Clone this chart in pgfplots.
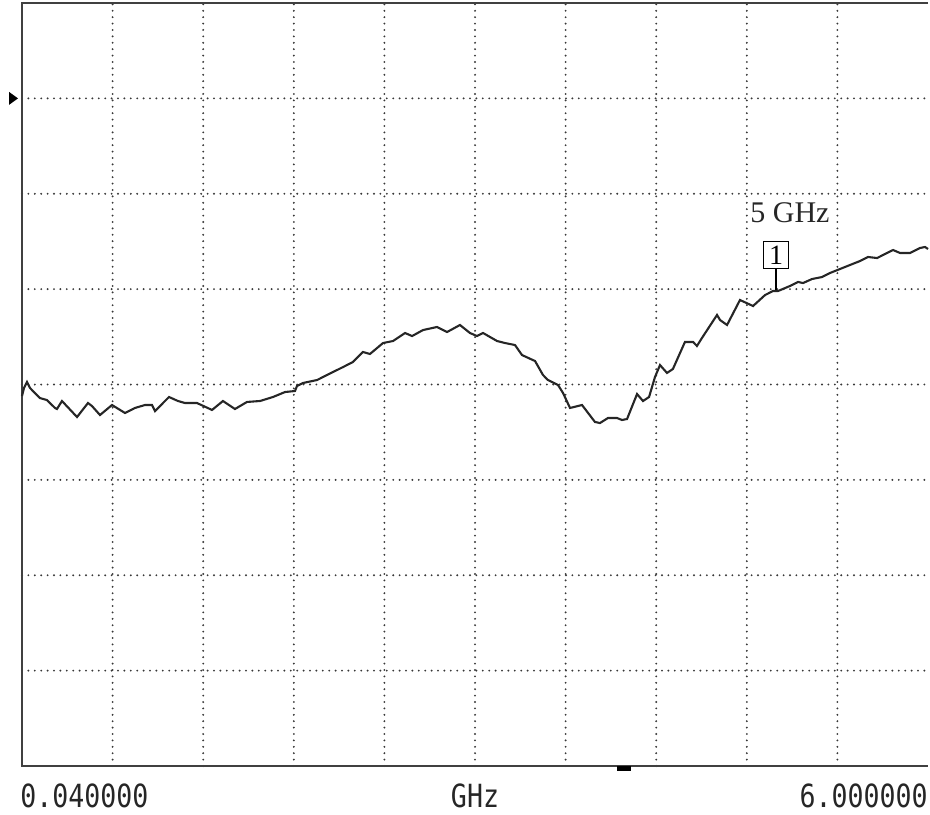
\documentclass[border=0pt]{standalone}
\usepackage{pgfplots}
\pgfplotsset{compat=1.18}
\usepackage{fontspec}
\newfontfamily\markerfont{Liberation Serif}
\newfontfamily\scalefont{DejaVu Sans Mono}

\definecolor{trace}{gray}{0.15}
\definecolor{frame}{gray}{0.25}
\definecolor{gridc}{gray}{0.22}

% Measured trace: frequency (GHz) vs. level (screen divisions)
\pgfplotstableread{
f      v
0.040  3.879
0.053  3.963
0.073  4.026
0.093  3.963
0.112  3.932
0.158  3.858
0.204  3.837
0.257  3.754
0.270  3.743
0.303  3.827
0.402  3.659
0.474  3.806
0.500  3.775
0.553  3.680
0.632  3.785
0.718  3.701
0.783  3.754
0.849  3.785
0.895  3.785
0.915  3.722
1.007  3.869
1.066  3.827
1.112  3.806
1.191  3.806
1.290  3.733
1.362  3.827
1.441  3.743
1.520  3.817
1.606  3.827
1.691  3.869
1.770  3.921
1.836  3.932
1.849  3.984
1.889  4.016
1.981  4.047
2.086  4.131
2.152  4.183
2.217  4.236
2.283  4.341
2.329  4.320
2.415  4.435
2.481  4.456
2.560  4.540
2.606  4.508
2.678  4.571
2.770  4.603
2.836  4.550
2.921  4.624
2.987  4.540
3.033  4.508
3.073  4.540
3.165  4.456
3.217  4.435
3.283  4.414
3.329  4.309
3.415  4.246
3.467  4.100
3.500  4.047
3.566  3.995
3.599  3.911
3.645  3.754
3.724  3.785
3.809  3.607
3.842  3.596
3.895  3.649
3.954  3.649
3.987  3.628
4.020  3.638
4.086  3.900
4.125  3.827
4.165  3.869
4.204  4.079
4.237  4.204
4.283  4.121
4.322  4.163
4.401  4.446
4.454  4.446
4.480  4.404
4.513  4.488
4.612  4.729
4.632  4.676
4.678  4.624
4.763  4.886
4.849  4.823
4.928  4.938
4.980  4.980
5.013  4.980
5.092  5.033
5.145  5.075
5.178  5.064
5.237  5.106
5.303  5.127
5.355  5.169
5.421  5.211
5.487  5.253
5.553  5.295
5.605  5.337
5.665  5.326
5.730  5.379
5.770  5.410
5.816  5.379
5.882  5.379
5.947  5.431
5.980  5.442
6.000  5.421
}\tracedata

\begin{document}
\begin{tikzpicture}
\useasboundingbox (-11pt,-24pt) rectangle (454pt,383pt);
\begin{axis}[
  scale only axis,
  width=453pt, height=381.5pt,
  xmin=0.04, xmax=6, ymin=0, ymax=8,
  xtick={0.636,1.232,1.828,2.424,3.020,3.616,4.212,4.808,5.404},
  ytick={1,2,3,4,5,6,7},
  xticklabels={}, yticklabels={},
  major tick length=0pt,
  grid=major,
  grid style={gridc, line width=1.05pt, line cap=round, dash pattern=on 0pt off 3.2pt},
  axis line style={draw=none},
  clip=false,
]
% frame: left, bottom and top edges
\draw[frame, line width=1pt] (rel axis cs:1,1) -- (rel axis cs:0,1) -- (rel axis cs:0,0) -- (rel axis cs:1,0);

\addplot[trace, line width=1.05pt, mark=none] table[x=f, y=v] {\tracedata};

% reference level arrow
\fill[black] ([xshift=-2pt]axis cs:0.04,7) -- ++(-4.5pt,3.25pt) -- ++(0pt,-6.5pt) -- cycle;
% center-frequency tick under the frame
\fill[black] ([xshift=-3.5pt]axis cs:4.0,0) rectangle ([xshift=3.5pt,yshift=-2.5pt]axis cs:4.0,0);

% marker 1 at 5 GHz
\draw[black, line width=0.6pt] (axis cs:5.0,4.99) -- ++(0pt,10.5pt)
  node[draw, line width=0.6pt, anchor=south, minimum width=12.5pt, minimum height=13.5pt,
       inner sep=0pt, font=\markerfont\fontsize{14}{14}\selectfont] {1};
\node[font=\markerfont\fontsize{15}{15}\selectfont, text=black!85] at (axis cs:5.092,5.80) {5 GHz};

% frequency scale
\node[anchor=west, inner sep=0pt, font=\scalefont\fontsize{13.3}{13.3}\selectfont, text=black!85]
  at ([xshift=-1pt,yshift=-15pt]rel axis cs:0,0) {\scalebox{1}[1.2]{0.040000}};
\node[anchor=center, inner sep=0pt, font=\scalefont\fontsize{13.3}{13.3}\selectfont, text=black!85]
  at ([yshift=-15pt]rel axis cs:0.5,0) {\scalebox{1}[1.2]{GHz}};
\node[anchor=east, inner sep=0pt, font=\scalefont\fontsize{13.3}{13.3}\selectfont, text=black!85]
  at ([yshift=-15pt]rel axis cs:1,0) {\scalebox{1}[1.2]{6.000000}};
\end{axis}
\end{tikzpicture}
\end{document}
